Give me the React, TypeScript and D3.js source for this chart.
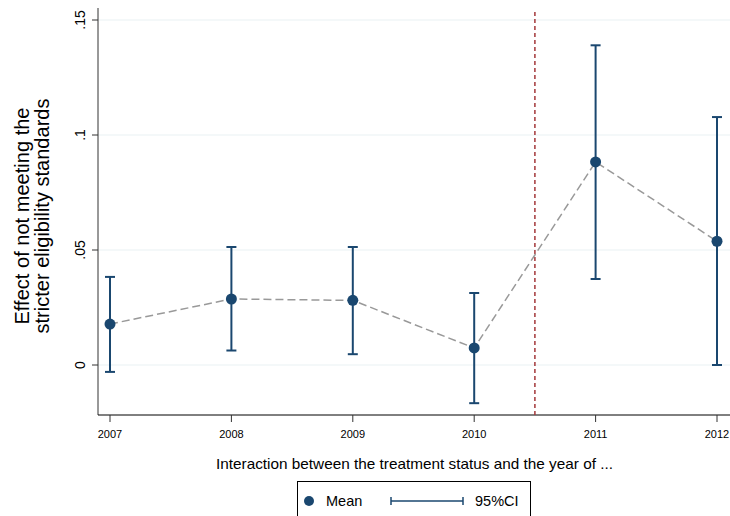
import React from "react";
import * as d3 from "d3";

const years = [2007, 2008, 2009, 2010, 2011, 2012];
const means = [0.0178, 0.0287, 0.0281, 0.0074, 0.0883, 0.0538];
const lower = [-0.003, 0.0063, 0.0047, -0.0166, 0.0374, 0.0];
const upper = [0.0383, 0.0513, 0.0513, 0.0313, 0.139, 0.1078];
const yTicks = [0, 0.05, 0.1, 0.15];
const yTickLabels = ["0", ".05", ".1", ".15"];
const eventYear = 2010.5;

const NAVY = "#1a476f";
const FONT = "'Liberation Sans', Arial, sans-serif";

export default function App() {
  const W = 730, H = 516;
  const left = 98, right = 730, top = 8, bottom = 415;
  const x = d3.scaleLinear().domain([2007, 2012]).range([110, 717]);
  const y = d3.scaleLinear().domain([0, 0.15]).range([365, 20]);
  const line = d3.line<number>().x((_, i) => x(years[i])).y((d) => y(d));
  const cap = 5;
  return (
    <svg width={W} height={H} style={{ position: "absolute", left: 0, top: 0, fontFamily: FONT }}>
      <rect x={0} y={0} width={W} height={H} fill="#fff" />
      {yTicks.map((t) => (
        <line key={"g" + t} x1={left} x2={right} y1={y(t)} y2={y(t)} stroke="#eaf2f3" strokeWidth={1.2} />
      ))}
      <line x1={left} x2={left} y1={top} y2={bottom} stroke="#333" strokeWidth={1} />
      <line x1={left} x2={right} y1={bottom} y2={bottom} stroke="#000" strokeWidth={1} />
      {yTicks.map((t, i) => (
        <g key={"t" + t}>
          <line x1={left - 6} x2={left} y1={y(t)} y2={y(t)} stroke="#333" />
          <text transform={`translate(${left - 13},${y(t)}) rotate(-90)`} textAnchor="middle" fontSize={14} fill="#000">
            {yTickLabels[i]}
          </text>
        </g>
      ))}
      {years.map((yr) => (
        <g key={"x" + yr}>
          <line x1={x(yr)} x2={x(yr)} y1={bottom} y2={bottom + 7} stroke="#333" />
          <text x={x(yr)} y={bottom + 23} textAnchor="middle" fontSize={11} fill="#000">
            {yr}
          </text>
        </g>
      ))}
      <line x1={x(eventYear)} x2={x(eventYear)} y1={12} y2={bottom} stroke="#a3373a" strokeWidth={1.5} strokeDasharray="4,3" />
      <path d={line(means) || ""} fill="none" stroke="#999" strokeWidth={1.5} strokeDasharray="8,4" />
      {years.map((yr, i) => (
        <g key={"e" + yr} stroke={NAVY} strokeWidth={2}>
          <line x1={x(yr)} x2={x(yr)} y1={y(lower[i])} y2={y(upper[i])} />
          <line x1={x(yr) - cap} x2={x(yr) + cap} y1={y(lower[i])} y2={y(lower[i])} />
          <line x1={x(yr) - cap} x2={x(yr) + cap} y1={y(upper[i])} y2={y(upper[i])} />
        </g>
      ))}
      {years.map((yr, i) => (
        <circle key={"c" + yr} cx={x(yr)} cy={y(means[i])} r={5.5} fill={NAVY} />
      ))}
      <text transform="translate(29,216) rotate(-90)" textAnchor="middle" fontSize={20} fill="#000" textLength={217} lengthAdjust="spacing">
        Effect of not meeting the
      </text>
      <text transform="translate(49,216) rotate(-90)" textAnchor="middle" fontSize={19.5} fill="#000" textLength={235} lengthAdjust="spacingAndGlyphs">
        stricter eligibility standards
      </text>
      <text x={414.5} y={469} textAnchor="middle" fontSize={15} fill="#000" textLength={397} lengthAdjust="spacingAndGlyphs">
        Interaction between the treatment status and the year of ...
      </text>
      <rect x={297.5} y={481.5} width={233} height={40} fill="#fff" stroke="#000" strokeWidth={1} />
      <circle cx={309} cy={501} r={5} fill={NAVY} />
      <text x={326} y={506} fontSize={14.5} fill="#000">Mean</text>
      <g stroke={NAVY} strokeWidth={1.5}>
        <line x1={391} x2={463} y1={501} y2={501} />
        <line x1={391} x2={391} y1={497} y2={505} />
        <line x1={463} x2={463} y1={497} y2={505} />
      </g>
      <text x={475} y={506} fontSize={14.5} fill="#000">95%CI</text>
    </svg>
  );
}
